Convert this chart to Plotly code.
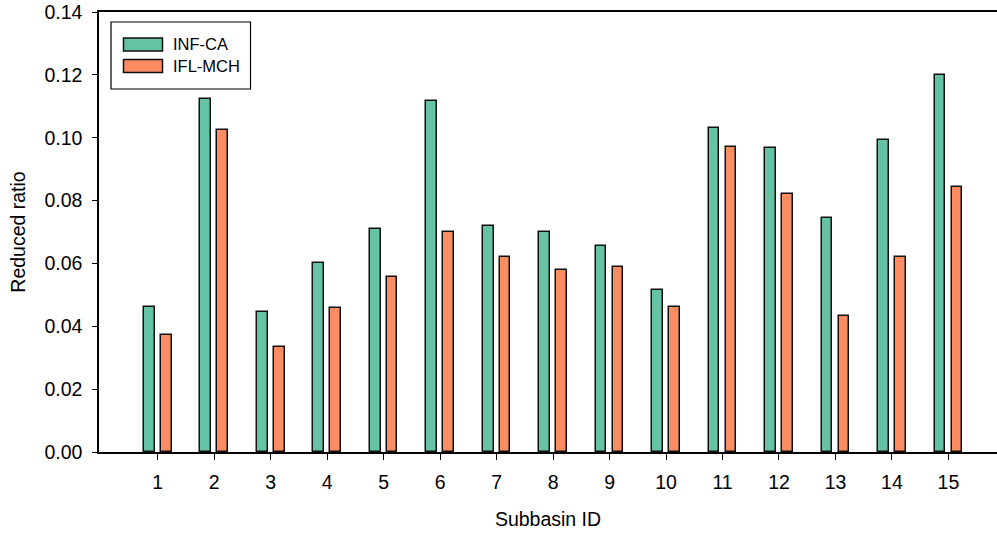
import plotly.graph_objects as go

subbasins = list(range(1, 16))
inf_ca = [0.0461, 0.1122, 0.0444, 0.0600, 0.0711, 0.1118, 0.0718, 0.0701,
          0.0657, 0.0515, 0.1032, 0.0967, 0.0744, 0.0992, 0.1199]
ifl_mch = [0.0371, 0.1026, 0.0334, 0.0458, 0.0556, 0.0701, 0.0621, 0.0579,
           0.0589, 0.0461, 0.0972, 0.0820, 0.0434, 0.0621, 0.0844]
y_ticks = [0.00, 0.02, 0.04, 0.06, 0.08, 0.10, 0.12, 0.14]
series_names = ["INF-CA", "IFL-MCH"]
series_colors = ["#66c2a5", "#fc8d62"]

FONT = "Arial, Liberation Sans, sans-serif"
W, H = 997, 535
ML, MR, MT, MB = 99, 0, 12, 83
PW, PH = W - ML - MR, H - MT - MB

fig = go.Figure()
fig.add_trace(go.Bar(x=subbasins, y=inf_ca, name=series_names[0],
                     marker=dict(color=series_colors[0], line=dict(color="#111111", width=1.5)),
                     width=0.19, offset=-0.245))
fig.add_trace(go.Bar(x=subbasins, y=ifl_mch, name=series_names[1],
                     marker=dict(color=series_colors[1], line=dict(color="#111111", width=1.5)),
                     width=0.19, offset=0.055))

# custom legend (paper coords computed from pixel positions)
def px(x):
    return (x - ML) / PW

def py(y):
    return 1 - (y - MT) / PH

shapes = [dict(type="rect", xref="paper", yref="paper",
               x0=px(111), x1=px(250.5), y0=py(89), y1=py(22),
               line=dict(color="black", width=1.2), fillcolor="white", layer="above")]
annotations = []
for i, (name, col) in enumerate(zip(series_names, series_colors)):
    yc = 44.5 + i * 21.5
    shapes.append(dict(type="rect", xref="paper", yref="paper",
                       x0=px(123.5), x1=px(162.5), y0=py(yc + 6.5), y1=py(yc - 6.5),
                       line=dict(color="#111111", width=1.5), fillcolor=col, layer="above"))
    annotations.append(dict(xref="paper", yref="paper", x=px(171), y=py(yc),
                            text=name, showarrow=False, xanchor="left", yanchor="middle",
                            font=dict(size=16.5, family=FONT, color="black")))

fig.update_layout(
    width=W, height=H,
    margin=dict(l=ML, r=MR, t=MT, b=MB),
    paper_bgcolor="white", plot_bgcolor="white",
    font=dict(family=FONT, size=19.5, color="black"),
    showlegend=False,
    shapes=shapes, annotations=annotations,
    bargap=0,
)
fig.update_xaxes(
    range=[-0.04, 15.86], tickmode="array", tickvals=subbasins,
    ticktext=[str(s) for s in subbasins],
    showline=True, linecolor="black", linewidth=1.5, mirror=True,
    ticks="outside", ticklen=6, tickwidth=1.2, tickcolor="black",
    showgrid=False, zeroline=False, ticklabelstandoff=6,
    title=dict(text="Subbasin ID", standoff=20, font=dict(size=19.5)),
    tickfont=dict(size=19.5),
)
fig.update_yaxes(
    range=[0, 0.14], tickmode="array", tickvals=y_ticks,
    ticktext=[f"{v:.2f}" for v in y_ticks],
    showline=True, linecolor="black", linewidth=1.5,
    ticks="outside", ticklen=5, tickwidth=1.2, tickcolor="black",
    showgrid=False, zeroline=False, ticklabelstandoff=6,
    title=dict(text="Reduced ratio", standoff=14, font=dict(size=19.5)),
    tickfont=dict(size=19.5),
)

fig.write_html("out.html")
